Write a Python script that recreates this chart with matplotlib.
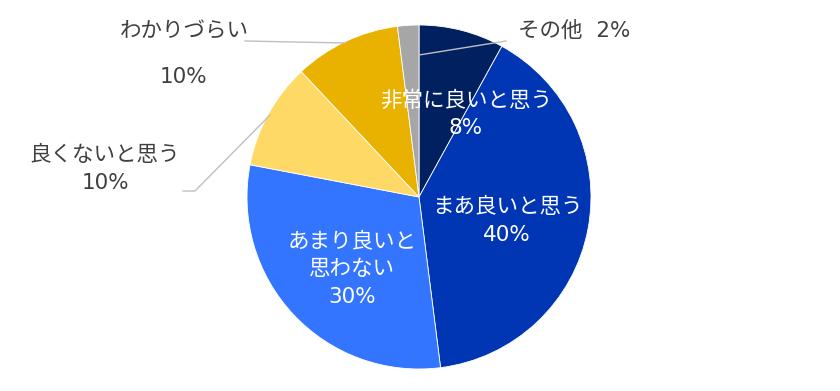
import matplotlib
matplotlib.use("Agg")
import matplotlib.pyplot as plt

# DejaVu first for Verdana-like digits, Noto CJK for the Japanese glyphs
plt.rcParams["font.family"] = ["DejaVu Sans", "Noto Sans CJK JP"]

# ── Data ─────────────────────────────────────────────────────────────────────
categories = ["非常に良いと思う", "まあ良いと思う", "あまり良いと思わない",
              "良くないと思う", "わかりづらい", "その他"]
values = [8, 40, 30, 10, 10, 2]
colors = ["#002060", "#0036B4", "#3375FF", "#FFD966", "#E9B200", "#A6A6A6"]

W, H = 840, 391
CX, CY, R = 419, 197, 172          # pie centre / radius in pixels (top-left origin)
FS = 15.5
LS = 1.5
TXT_DARK = "#404040"
LINE = "#BFBFBF"


def py(y):
    """pixel y (top origin) -> data y (bottom origin)"""
    return H - y


fig = plt.figure(figsize=(W / 100, H / 100), dpi=100)
ax = fig.add_axes([0, 0, 1, 1])
ax.pie(values, colors=colors, startangle=90, counterclock=False,
       center=(CX, py(CY)), radius=R,
       wedgeprops=dict(edgecolor="white", linewidth=0.6))
ax.set_xlim(0, W)
ax.set_ylim(0, H)
ax.set_aspect("equal")
ax.axis("off")

# inside labels (white)
ax.text(466, py(114), f"非常に良いと思う\n{values[0]}%", color="white",
        fontsize=FS, ha="center", va="center", linespacing=LS)
ax.text(507, py(221), f"まあ良いと思う\n{values[1]}%", color="white",
        fontsize=FS, ha="center", va="center", linespacing=LS)
ax.text(352, py(269), f"あまり良いと\n思わない\n{values[2]}%", color="white",
        fontsize=FS, ha="center", va="center", linespacing=LS)

# outside labels
ax.text(105, py(169), f"良くないと思う\n{values[3]}%", color=TXT_DARK,
        fontsize=FS, ha="center", va="center", linespacing=LS)
ax.text(184, py(32), categories[4], color=TXT_DARK,
        fontsize=FS, ha="center", va="center")
ax.text(184, py(77), f"{values[4]}%", color=TXT_DARK,
        fontsize=FS, ha="center", va="center")
ax.text(518, py(31), f"{categories[5]}  {values[5]}%", color=TXT_DARK,
        fontsize=FS, ha="left", va="center")

# leader lines
ax.plot([245, 345], [py(41), py(43)], color=LINE, lw=1)
ax.plot([183, 195, 270], [py(191), py(191), py(115)], color=LINE, lw=1)
ax.plot([419, 500, 506], [py(55), py(42), py(41)], color=LINE, lw=1)

fig.savefig("out.png", dpi=100)
